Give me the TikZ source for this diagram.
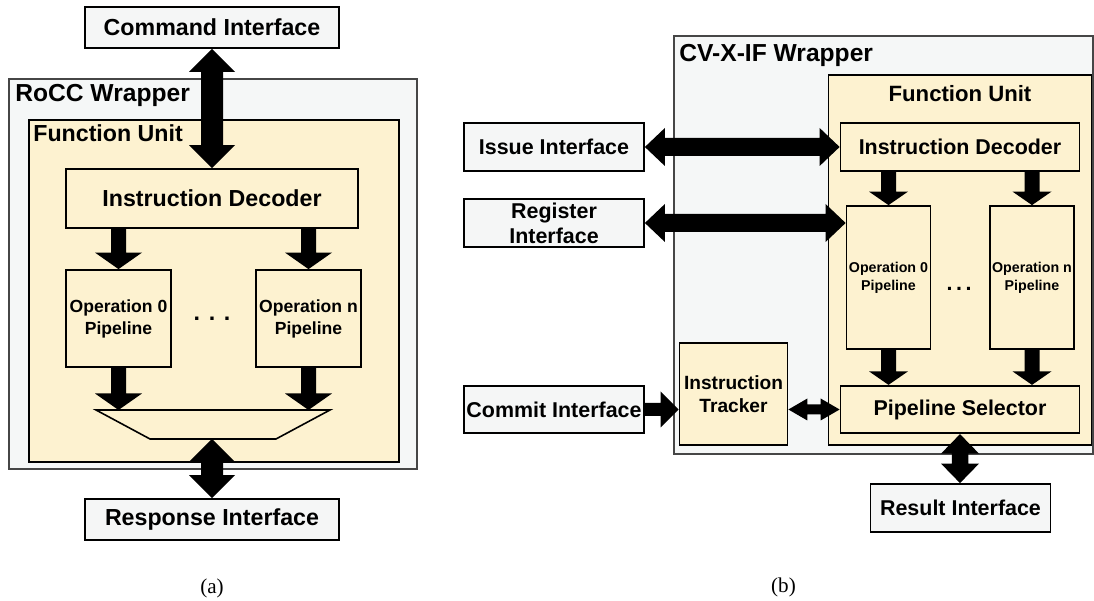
\documentclass[tikz,border=0pt]{standalone}
\usepackage{fontspec}
\setmainfont{Liberation Serif}
\newfontfamily\lsans{Liberation Sans}
\usetikzlibrary{calc}
\definecolor{wrapcolor}{RGB}{245,247,247}
\definecolor{wrapline}{RGB}{70,70,70}
\definecolor{fucolor}{RGB}{253,242,208}
\definecolor{ifcolor}{RGB}{245,246,246}
\newcommand{\fwrap}{\lsans\bfseries\fontsize{14}{17}\selectfont}
\newcommand{\fsx}{\lsans\bfseries\fontsize{13.2}{16}\selectfont}
\newcommand{\fdx}{\lsans\bfseries\fontsize{12.2}{14.2}\selectfont}
\newcommand{\fopsx}{\lsans\bfseries\fontsize{10}{12.5}\selectfont}
\newcommand{\fopdx}{\lsans\bfseries\fontsize{8.1}{10.2}\selectfont}
\newcommand{\ftrk}{\lsans\bfseries\fontsize{10.9}{13}\selectfont}
% frecce piene: da #1 a #2, mezzo gambo #3, mezza punta #4, lunghezza punta #5
\newcommand{\frecciav}[5]{\fill let \p1=(#1), \p2=(#2) in (\x1,\y1) -- (\x1+#4,\y1-#5) -- (\x1+#3,\y1-#5) -- (\x1+#3,\y2+#5) -- (\x1+#4,\y2+#5) -- (\x1,\y2) -- (\x1-#4,\y2+#5) -- (\x1-#3,\y2+#5) -- (\x1-#3,\y1-#5) -- (\x1-#4,\y1-#5) -- cycle;}
\newcommand{\frecciagiu}[5]{\fill let \p1=(#1), \p2=(#2) in (\x1-#3,\y1) -- (\x1+#3,\y1) -- (\x1+#3,\y2+#5) -- (\x1+#4,\y2+#5) -- (\x1,\y2) -- (\x1-#4,\y2+#5) -- (\x1-#3,\y2+#5) -- cycle;}
\newcommand{\frecciah}[5]{\fill let \p1=(#1), \p2=(#2) in (\x1,\y1) -- (\x1+#5,\y1+#4) -- (\x1+#5,\y1+#3) -- (\x2-#5,\y1+#3) -- (\x2-#5,\y1+#4) -- (\x2,\y1) -- (\x2-#5,\y1-#4) -- (\x2-#5,\y1-#3) -- (\x1+#5,\y1-#3) -- (\x1+#5,\y1-#4) -- cycle;}
\newcommand{\frecciadx}[5]{\fill let \p1=(#1), \p2=(#2) in (\x1,\y1+#3) -- (\x2-#5,\y1+#3) -- (\x2-#5,\y1+#4) -- (\x2,\y1) -- (\x2-#5,\y1-#4) -- (\x2-#5,\y1-#3) -- (\x1,\y1-#3) -- cycle;}
\tikzset{
    wrapper/.style={draw=wrapline, fill=wrapcolor, line width=0.8pt},
    unit/.style={draw=black, fill=fucolor, line width=0.9pt},
    blocco/.style={draw=black, fill=fucolor, line width=1pt, inner sep=0pt, align=center},
    interfaccia/.style={blocco, fill=ifcolor}
}
\begin{document}
\begin{tikzpicture}
    \useasboundingbox (0,0) rectangle (21.88,12.02);
    % (a) RoCC
    \draw [wrapper] (0.18,2.64) rectangle (8.34,10.44);
    \node [anchor=base west, font=\fwrap, inner sep=0pt] (roccl) at (0.30,9.98) {RoCC Wrapper};
    \draw [unit] (0.58,2.78) rectangle (7.98,9.62);
    \node [anchor=base west, font=\fsx, inner sep=0pt] (fual) at (0.66,9.18) {Function Unit};
    \node [interfaccia, minimum width=5.08cm, minimum height=0.82cm, font=\fsx] (cmd) at (4.24,11.47) {Command Interface};
    \node [blocco, minimum width=5.84cm, minimum height=1.18cm, font=\fsx] (dec) at (4.24,8.05) {Instruction Decoder};
    \node [blocco, minimum width=2.1cm, minimum height=1.94cm, font=\fopsx] (op0) at (2.37,5.65) {Operation 0\\Pipeline};
    \node [blocco, minimum width=2.1cm, minimum height=1.94cm, font=\fopsx] (opn) at (6.17,5.65) {Operation n\\Pipeline};
    \node [font=\fsx] (dotsa) at (4.24,5.64) {. . .};
    \coordinate (muxtl) at (1.92,3.82);
    \coordinate (muxtr) at (6.60,3.82);
    \coordinate (muxbr) at (5.52,3.24);
    \coordinate (muxbl) at (3.00,3.24);
    \coordinate (muxb) at (4.24,3.24);
    \draw [unit] (muxtl) -- (muxtr) -- (muxbr) -- (muxbl) -- cycle; % mux
    \node [interfaccia, minimum width=5.08cm, minimum height=0.82cm, font=\fsx] (resp) at (4.24,1.63) {Response Interface};
    \node [font=\fontsize{12}{14}\selectfont] (capa) at (4.24,0.26) {(a)};
    % Frecce (a)
    \frecciav{cmd.south}{dec.north}{0.22cm}{0.46cm}{0.46cm}
    \frecciagiu{dec.south -| op0}{op0.north}{0.15cm}{0.47cm}{0.33cm}
    \frecciagiu{dec.south -| opn}{opn.north}{0.15cm}{0.47cm}{0.33cm}
    \frecciagiu{op0.south}{op0.south |- muxtl}{0.15cm}{0.47cm}{0.33cm}
    \frecciagiu{opn.south}{opn.south |- muxtl}{0.15cm}{0.47cm}{0.33cm}
    \frecciav{muxb}{resp.north}{0.22cm}{0.46cm}{0.46cm}
    % (b) CV-X-IF
    \draw [wrapper] (13.48,2.94) rectangle (21.86,11.30);
    \node [anchor=base west, font=\fwrap, inner sep=0pt] (cvxl) at (13.58,10.78) {CV-X-IF Wrapper};
    \draw [unit] (16.57,3.12) rectangle (21.83,10.52);
    \node [anchor=base, font=\lsans\bfseries\fontsize{12.6}{15}\selectfont, inner sep=0pt] (fubl) at (19.2,9.98) {Function Unit};
    \node [interfaccia, minimum width=3.6cm, minimum height=0.96cm, font=\fdx] (iss) at (11.08,9.08) {Issue Interface};
    \node [interfaccia, minimum width=3.6cm, minimum height=0.96cm, font=\fdx] (reg) at (11.08,7.56) {Register\\Interface};
    \node [interfaccia, minimum width=3.6cm, minimum height=0.95cm, font=\fdx] (com) at (11.08,3.83) {Commit Interface};
    \node [blocco, minimum width=4.78cm, minimum height=0.96cm, font=\fdx] (dec2) at (19.2,9.08) {Instruction Decoder};
    \node [blocco, minimum width=1.68cm, minimum height=2.86cm, font=\fopdx] (op0b) at (17.77,6.47) {Operation 0\\Pipeline};
    \node [blocco, minimum width=1.68cm, minimum height=2.86cm, font=\fopdx] (opnb) at (20.64,6.47) {Operation n\\Pipeline};
    \node [font=\fdx] (dotsb) at (19.18,6.24) {.\,.\,.};
    \node [blocco, minimum width=4.78cm, minimum height=0.95cm, font=\fdx] (sel) at (19.2,3.83) {Pipeline Selector};
    \node [blocco, minimum width=2.16cm, minimum height=2.04cm, font=\ftrk] (trk) at (14.67,4.14) {Instruction\\Tracker};
    \node [interfaccia, minimum width=3.6cm, minimum height=0.96cm, font=\fdx] (res) at (19.21,1.86) {Result Interface};
    \node [font=\fontsize{12}{14}\selectfont] (capb) at (15.67,0.28) {(b)};
    % Frecce (b)
    \frecciah{iss.east}{dec2.west}{0.18cm}{0.38cm}{0.4cm}
    \frecciah{reg.east}{op0b.west}{0.18cm}{0.38cm}{0.4cm}
    \frecciadx{com.east}{trk.west}{0.13cm}{0.36cm}{0.36cm}
    \frecciah{trk.east |- sel.west}{sel.west}{0.1cm}{0.22cm}{0.38cm}
    \frecciagiu{dec2.south -| op0b}{op0b.north}{0.15cm}{0.39cm}{0.27cm}
    \frecciagiu{dec2.south -| opnb}{opnb.north}{0.15cm}{0.39cm}{0.27cm}
    \frecciagiu{op0b.south}{op0b.south |- sel.north}{0.15cm}{0.39cm}{0.27cm}
    \frecciagiu{opnb.south}{opnb.south |- sel.north}{0.15cm}{0.39cm}{0.27cm}
    \frecciav{sel.south}{res.north}{0.165cm}{0.38cm}{0.39cm}
\end{tikzpicture}
\end{document}
